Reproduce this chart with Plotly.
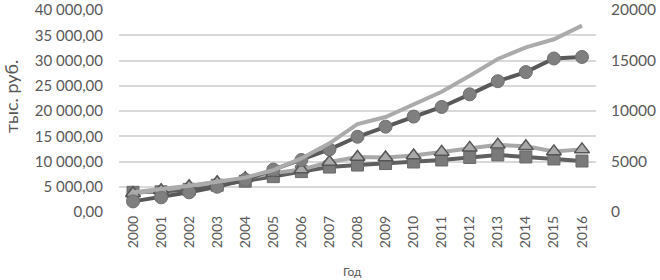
import plotly.graph_objects as go

years = [str(y) for y in range(2000, 2017)]
circles = [2100, 2900, 3900, 5000, 6400, 8400, 10300, 12400, 14900, 16900, 18900, 20800, 23300, 25900, 27700, 30400, 30700]
light = [3900, 4500, 5200, 6000, 6800, 8300, 10600, 13600, 17400, 18800, 21200, 23800, 27000, 30300, 32600, 34200, 36900]
triangles = [3700, 4300, 5100, 5900, 6700, 7700, 8400, 9900, 10900, 10800, 11200, 11900, 12700, 13300, 13000, 12000, 12400]
squares = [3900, 4000, 4500, 5300, 6100, 7000, 8000, 8900, 9300, 9600, 9900, 10300, 10800, 11300, 10900, 10500, 10100]

left_ticks = [0, 5000, 10000, 15000, 20000, 25000, 30000, 35000, 40000]
left_text = ["0,00", "5 000,00", "10 000,00", "15 000,00", "20 000,00", "25 000,00", "30 000,00", "35 000,00", "40 000,00"]
right_ticks = [0, 5000, 10000, 15000, 20000]
right_text = ["0", "5000", "10000", "15000", "20000"]

T, B = 9.5, 212.5
PH = B - T

fig = go.Figure()
fig.add_trace(go.Scatter(x=years, y=squares, mode="lines+markers",
                         line=dict(color="#5f5f5f", width=4),
                         marker=dict(symbol="square", size=12, color="#7a7a7a", line=dict(color="#6a6a6a", width=1))))
fig.add_trace(go.Scatter(x=years, y=triangles, mode="lines+markers",
                         line=dict(color="#a8a8a8", width=4),
                         marker=dict(symbol="triangle-up", size=13, color="#a8a8a8", line=dict(color="#555555", width=1.5))))
fig.add_trace(go.Scatter(x=years, y=[v / 2 for v in light], mode="lines", yaxis="y2",
                         line=dict(color="#ababab", width=4)))
fig.add_trace(go.Scatter(x=years, y=circles, mode="lines+markers",
                         line=dict(color="#595959", width=4),
                         marker=dict(symbol="circle", size=13, color="#7f7f7f", line=dict(color="#6f6f6f", width=1))))

fig.update_layout(
    width=660, height=280,
    margin=dict(l=119, r=64, t=T, b=280 - B, autoexpand=False),
    paper_bgcolor="white", plot_bgcolor="white",
    showlegend=False,
    font=dict(family="Lato", color="#595959", size=14),
    xaxis=dict(type="category", range=[-0.5, 16.5], tickangle=-90, automargin=False,
               showgrid=False, showline=False, ticks="",
               tickfont=dict(size=14, color="#595959")),
    yaxis=dict(range=[0, 40000], tickvals=left_ticks, ticktext=left_text, automargin=False,
               showgrid=True, gridcolor="#d9d9d9", gridwidth=1.5, zeroline=False,
               showline=False, ticks="", ticklabelstandoff=15, ticklabeloverflow="allow",
               tickfont=dict(size=15, color="#595959")),
    yaxis2=dict(range=[0, 20000], tickvals=right_ticks, ticktext=right_text, automargin=False,
                overlaying="y", side="right", showgrid=False, zeroline=False,
                showline=False, ticks="", ticklabelstandoff=14, ticklabeloverflow="allow",
                tickfont=dict(size=15.5, color="#595959")),
    annotations=[
        dict(text="тыс. руб.", textangle=-90, xref="paper", yref="paper",
             x=-119 / 477 + 11 / 477, y=1 - (97 - T) / PH, xanchor="center", yanchor="middle",
             showarrow=False, font=dict(size=18, color="#595959")),
        dict(text="Год", xref="paper", yref="paper",
             x=(352 - 119) / 477, y=-(272 - B) / PH, xanchor="center", yanchor="middle",
             showarrow=False, font=dict(size=12, color="#595959")),
    ],
)

fig.write_html("out.html", config={"displayModeBar": False},
               post_script="document.body.style.margin='0';document.body.style.overflow='hidden';")
